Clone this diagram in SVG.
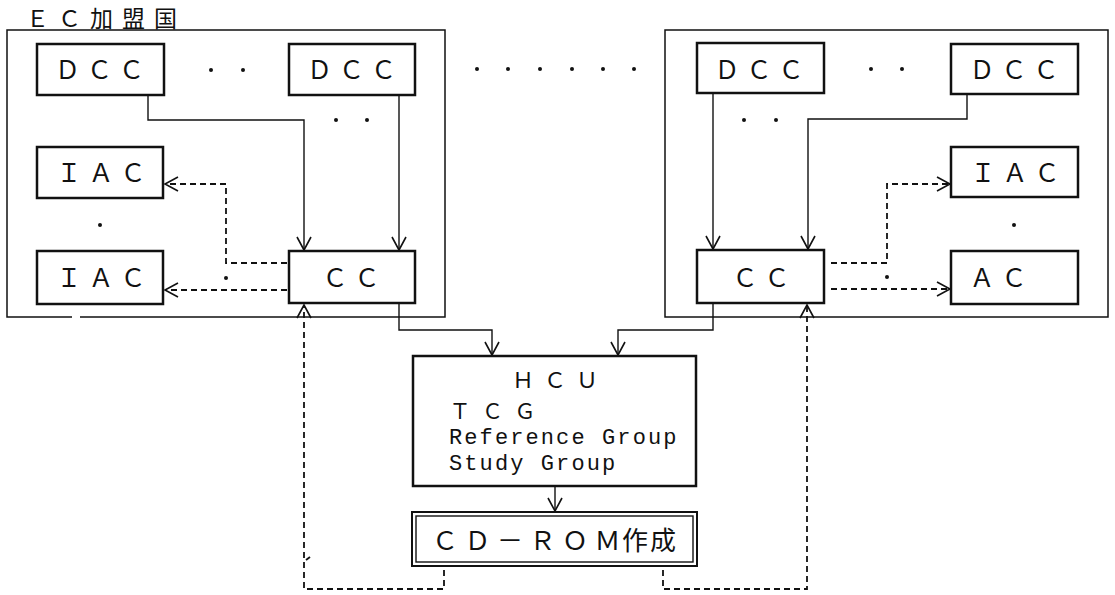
<svg xmlns="http://www.w3.org/2000/svg" width="1115" height="595" viewBox="0 0 1115 595">
<defs>
<style>
.bg{fill:#fff}
.panel{fill:none;stroke:#111;stroke-width:1.5}
.box{fill:#fff;stroke:#111;stroke-width:2.5}
.jp{font-family:'Noto Sans CJK JP','Noto Sans CJK SC',sans-serif;font-size:25px;fill:#111;letter-spacing:7px}
.mono{font-family:'Liberation Mono','DejaVu Sans Mono',monospace;font-size:22px;fill:#111;letter-spacing:2.1px}
.solid{fill:none;stroke:#111;stroke-width:1.4}
.dash{fill:none;stroke:#111;stroke-width:1.8;stroke-dasharray:6 4}
.dot{fill:#111}
</style>
<marker id="arr" viewBox="-15 -9 17 18" refX="0" refY="0" markerWidth="17" markerHeight="18" markerUnits="userSpaceOnUse" orient="auto">
<path d="M-13,-7 L0,0 L-13,7" fill="none" stroke="#111" stroke-width="1.6"/>
</marker>
</defs>
<rect class="bg" x="0" y="0" width="1115" height="595"/>

<g id="panel-left">
<text class="jp" x="26" y="27" style="font-size:23px;letter-spacing:9px">ＥＣ加盟国</text>
<path class="panel" d="M72,317 H7 V30 H445 V317 H80"/>
<circle class="dot" cx="211" cy="70" r="2"/>
<circle class="dot" cx="243" cy="70" r="2"/>
<circle class="dot" cx="336" cy="120" r="2"/>
<circle class="dot" cx="367" cy="120" r="2"/>
<circle class="dot" cx="100" cy="225" r="2"/>
<circle class="dot" cx="226" cy="278" r="2"/>
</g>

<g id="panel-right">
<rect class="panel" x="665" y="30" width="443" height="287"/>
<circle class="dot" cx="871" cy="69" r="2"/>
<circle class="dot" cx="902" cy="69" r="2"/>
<circle class="dot" cx="744" cy="120" r="2"/>
<circle class="dot" cx="776" cy="120" r="2"/>
<circle class="dot" cx="1014" cy="225" r="2"/>
<circle class="dot" cx="887" cy="277" r="2"/>
</g>

<g id="middle-dots">
<circle class="dot" cx="477" cy="69" r="2"/>
<circle class="dot" cx="508" cy="69" r="2"/>
<circle class="dot" cx="540" cy="69" r="2"/>
<circle class="dot" cx="572" cy="69" r="2"/>
<circle class="dot" cx="603" cy="69" r="2"/>
<circle class="dot" cx="634" cy="69" r="2"/>
</g>

<g id="connectors">
<path class="solid" d="M148,95 V120 H304 V250" marker-end="url(#arr)"/>
<path class="solid" d="M399,95 V250" marker-end="url(#arr)"/>
<path class="solid" d="M713,93 V249" marker-end="url(#arr)"/>
<path class="solid" d="M967,94 V119 H808 V249" marker-end="url(#arr)"/>
<path class="solid" d="M399,304 V330 H492 V355" marker-end="url(#arr)"/>
<path class="solid" d="M713,304 V330 H618 V355" marker-end="url(#arr)"/>
<path class="solid" d="M555,487 V511" marker-end="url(#arr)"/>
<path class="dash" d="M287,263 H226 V184 H165" marker-end="url(#arr)"/>
<path class="dash" d="M287,290 H165" marker-end="url(#arr)"/>
<path class="dash" d="M831,263 H887 V184 H950" marker-end="url(#arr)"/>
<path class="dash" d="M831,289 H950" marker-end="url(#arr)"/>
<path class="dash" d="M444,570 V589 H304 V305" marker-end="url(#arr)"/>
<path class="dash" d="M663,570 V589 H807 V305" marker-end="url(#arr)"/>
<path d="M306,560 L310,557" stroke="#111" stroke-width="1.8"/>
</g>

<g id="dcc1"><rect class="box" x="37" y="44" width="127" height="51"/><text class="jp" x="55" y="79">ＤＣＣ</text></g>
<g id="dcc2"><rect class="box" x="289" y="44" width="126" height="51"/><text class="jp" x="307" y="79">ＤＣＣ</text></g>
<g id="iac1"><rect class="box" x="37" y="147" width="126" height="51"/><text class="jp" x="56.5" y="182">ＩＡＣ</text></g>
<g id="iac2"><rect class="box" x="37" y="251" width="126" height="53"/><text class="jp" x="56.5" y="287">ＩＡＣ</text></g>
<g id="cc-left"><rect class="box" x="289" y="251" width="126" height="52"/><text class="jp" x="322.5" y="287">ＣＣ</text></g>

<g id="dcc3"><rect class="box" x="697" y="43" width="127" height="50"/><text class="jp" x="714.5" y="79">ＤＣＣ</text></g>
<g id="dcc4"><rect class="box" x="951" y="44" width="127" height="50"/><text class="jp" x="969.5" y="79">ＤＣＣ</text></g>
<g id="iac3"><rect class="box" x="951" y="147" width="127" height="50"/><text class="jp" x="970.5" y="182">ＩＡＣ</text></g>
<g id="ac"><rect class="box" x="951" y="251" width="127" height="53"/><text class="jp" x="969.5" y="287">ＡＣ</text></g>
<g id="cc-right"><rect class="box" x="697" y="250" width="127" height="53"/><text class="jp" x="732.5" y="287">ＣＣ</text></g>

<g id="hcu">
<rect class="box" x="413" y="356" width="283" height="130"/>
<text class="jp" x="512" y="388" style="font-size:22px;letter-spacing:10px">ＨＣＵ</text>
<text class="jp" x="449.5" y="419" style="font-size:21px;letter-spacing:11.5px">ＴＣＧ</text>
<text class="mono" x="449" y="444">Reference Group</text>
<text class="mono" x="449" y="470">Study Group</text>
</g>

<g id="cdrom">
<rect x="412" y="512" width="285" height="54" fill="#fff" stroke="#111" stroke-width="2"/>
<rect x="416" y="516" width="277" height="46" fill="none" stroke="#111" stroke-width="1.4"/>
<text class="jp" x="432" y="550" style="font-size:26px;letter-spacing:6.5px">ＣＤ－ＲＯＭ<tspan x="622" style="letter-spacing:2px">作成</tspan></text>
</g>
</svg>
